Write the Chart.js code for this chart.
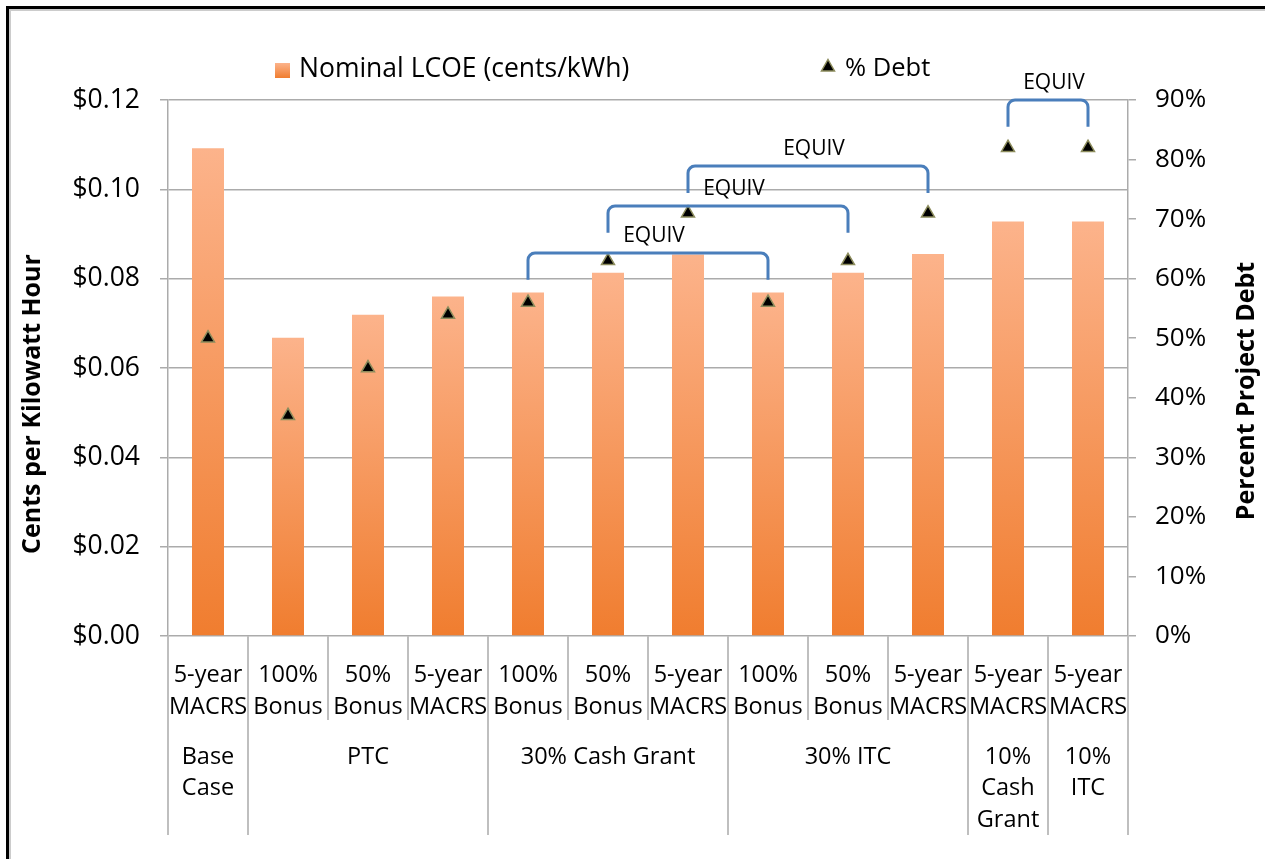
<!DOCTYPE html>
<html>
<head>
<meta charset="utf-8">
<title>Nominal LCOE and % Debt</title>
<script src="https://cdn.jsdelivr.net/npm/chart.js@4.4.1/dist/chart.umd.min.js"></script>
<style>
  html, body { margin: 0; padding: 0; background: #fff; overflow: hidden; }
  canvas { display: block; }
</style>
</head>
<body>
<canvas id="lcoe_chart" width="1265" height="859"></canvas>
<script>
// categories (first row of the x axis) and their groups (second row)
const categories = [
  ['5-year', 'MACRS'], ['100%', 'Bonus'], ['50%', 'Bonus'], ['5-year', 'MACRS'],
  ['100%', 'Bonus'], ['50%', 'Bonus'], ['5-year', 'MACRS'],
  ['100%', 'Bonus'], ['50%', 'Bonus'], ['5-year', 'MACRS'],
  ['5-year', 'MACRS'], ['5-year', 'MACRS']
];
const groupLabels = [['Base', 'Case'], ['PTC'], ['30% Cash Grant'], ['30% ITC'], ['10%', 'Cash', 'Grant'], ['10%', 'ITC']];
const groupSpans = [1, 3, 3, 3, 1, 1];

// series
const lcoe = [0.1092, 0.0668, 0.0719, 0.0760, 0.0769, 0.0813, 0.0854, 0.0769, 0.0813, 0.0855, 0.0928, 0.0928];
const debtPct = [50, 37, 45, 54, 56, 63, 71, 56, 63, 71, 82, 82];

// "EQUIV" brackets: pairs of category indexes and the % level of the bracket top
const equivPairs = [[4, 7], [5, 8], [6, 9], [10, 11]];
const equivLevels = [64.3, 72.2, 78.9, 90];
const equivLabel = 'EQUIV';

const FONT = "'Open Sans', 'Noto Sans', sans-serif";
const GRID = '#ababab';
Chart.defaults.font.family = FONT;
Chart.defaults.color = '#000';

function barFill(context) {
  const { ctx, scales } = context.chart;
  if (context.type !== 'data' || !scales.y) return '#F59A5B';
  const top = scales.y.getPixelForValue(context.raw);
  const base = scales.y.getPixelForValue(0);
  if (!isFinite(top) || !isFinite(base)) return '#F59A5B';
  const g = ctx.createLinearGradient(0, top, 0, base);
  g.addColorStop(0, '#FCB38B');
  g.addColorStop(1, '#F07D2F');
  return g;
}

// frame, labels, separators, legend, titles and brackets
const decorations = {
  id: 'decorations',
  beforeDraw(chart) {
    const { ctx, width, height } = chart;
    ctx.save();
    ctx.fillStyle = '#fff';
    ctx.fillRect(0, 0, width, height);
    ctx.fillStyle = '#cccccc';
    ctx.fillRect(9, 9, width, 2);
    ctx.fillRect(9, 9, 2, height);
    ctx.fillStyle = '#000';
    ctx.fillRect(6, 6, width, 3);
    ctx.fillRect(6, 6, 3, height);
    ctx.restore();
  },
  afterDraw(chart) {
    const { ctx, chartArea, scales: { x, y1 } } = chart;
    const bottom = chartArea.bottom;
    ctx.save();

    // separators under the axis
    ctx.strokeStyle = '#bfbfbf';
    ctx.lineWidth = 2;
    const groupEdges = [0];
    groupSpans.forEach(s => groupEdges.push(groupEdges[groupEdges.length - 1] + s));
    for (let i = 0; i <= categories.length; i++) {
      const px = Math.round(x.getPixelForValue(i - 0.5));
      const long = groupEdges.includes(i);
      ctx.beginPath();
      ctx.moveTo(px, bottom);
      ctx.lineTo(px, bottom + (long ? 199 : 84));
      ctx.stroke();
    }

    // first row labels
    ctx.fillStyle = '#000';
    ctx.textAlign = 'center';
    ctx.textBaseline = 'middle';
    ctx.font = '23.5px ' + FONT;
    categories.forEach((lines, i) => {
      const cx = x.getPixelForValue(i);
      lines.forEach((t, k) => ctx.fillText(t, cx, bottom + 39 + k * 32));
    });

    // second row (groups)
    groupLabels.forEach((lines, g) => {
      const a = x.getPixelForValue(groupEdges[g] - 0.5);
      const b = x.getPixelForValue(groupEdges[g + 1] - 0.5);
      lines.forEach((t, k) => ctx.fillText(t, (a + b) / 2, bottom + 121 + k * 31.5));
    });

    // axis titles
    ctx.font = 'bold 25px ' + FONT;
    ctx.save();
    ctx.translate(33, 404);
    ctx.rotate(-Math.PI / 2);
    ctx.fillText('Cents per Kilowatt Hour', 0, 0);
    ctx.restore();
    ctx.save();
    ctx.translate(1247, 391);
    ctx.rotate(-Math.PI / 2);
    ctx.fillText('Percent Project Debt', 0, 0);
    ctx.restore();

    // legend
    const ds = chart.data.datasets;
    const sq = ctx.createLinearGradient(0, 63, 0, 78);
    sq.addColorStop(0, '#FCB38B');
    sq.addColorStop(1, '#F07D2F');
    ctx.fillStyle = sq;
    ctx.fillRect(275, 63, 15, 15);
    ctx.fillStyle = '#000';
    ctx.textAlign = 'left';
    ctx.font = '26.5px ' + FONT;
    ctx.fillText(ds[1].label, 299, 69);
    ctx.strokeStyle = '#8c8c5c';
    ctx.lineWidth = 1.5;
    ctx.beginPath();
    ctx.moveTo(828, 59.5); ctx.lineTo(834.5, 71); ctx.lineTo(821.5, 71); ctx.closePath();
    ctx.fill(); ctx.stroke();
    ctx.font = '25.5px ' + FONT;
    ctx.fillText(ds[0].label, 845, 69);

    // EQUIV brackets
    ctx.strokeStyle = '#4A7EBB';
    ctx.lineWidth = 3;
    ctx.lineJoin = 'round';
    ctx.font = '21px ' + FONT;
    ctx.textAlign = 'center';
    equivPairs.forEach(([a, b], k) => {
      const xa = x.getPixelForValue(a);
      const xb = x.getPixelForValue(b);
      const yt = y1.getPixelForValue(equivLevels[k]);
      const yb = y1.getPixelForValue(equivLevels[k] - 4.5);
      const r = 7;
      ctx.beginPath();
      ctx.moveTo(xa, yb);
      ctx.arcTo(xa, yt, xa + r, yt, r);
      ctx.arcTo(xb, yt, xb, yt + r, r);
      ctx.lineTo(xb, yb);
      ctx.stroke();
      ctx.fillText(equivLabel, (xa + xb) / 2 + 6, yt - 17);
    });

    ctx.restore();
  }
};

new Chart(document.getElementById('lcoe_chart'), {
  type: 'bar',
  data: {
    labels: categories,
    datasets: [
      {
        type: 'line',
        label: '% Debt',
        data: debtPct,
        yAxisID: 'y1',
        showLine: false,
        pointStyle: 'triangle',
        pointRadius: 7.5,
        pointBackgroundColor: '#000',
        pointBorderColor: '#8c8c5c',
        pointBorderWidth: 1.5,
        order: 1,
      },
      {
        label: 'Nominal LCOE (cents/kWh)',
        data: lcoe,
        yAxisID: 'y',
        backgroundColor: barFill,
        borderWidth: 0,
        categoryPercentage: 1,
        barPercentage: 0.4,
        order: 2,
      },
    ],
  },
  options: {
    responsive: false,
    animation: false,
    devicePixelRatio: 1,
    layout: { padding: { top: 100, left: 0, right: 0, bottom: 0 } },
    plugins: { legend: { display: false }, tooltip: { enabled: false } },
    scales: {
      x: {
        grid: { display: false },
        border: { display: false },
        ticks: { display: false },
        afterFit(s) { s.height = 223; },
      },
      y: {
        position: 'left',
        min: 0,
        max: 0.12,
        ticks: {
          stepSize: 0.02,
          padding: 20,
          font: { size: 26.5 },
          color: '#000',
          callback: v => '$' + v.toFixed(2),
        },
        grid: { color: GRID, lineWidth: 1.5, tickLength: 8 },
        border: { color: GRID, width: 1.5 },
        afterFit(s) { s.width = 168; },
      },
      y1: {
        position: 'right',
        min: 0,
        max: 90,
        ticks: {
          stepSize: 10,
          padding: 19,
          font: { size: 26 },
          color: '#000',
          callback: v => v + '%',
        },
        grid: { drawOnChartArea: false, color: GRID, lineWidth: 1.5, tickLength: 8 },
        border: { color: GRID, width: 1.5 },
        afterFit(s) { s.width = 137; },
      },
    },
  },
  plugins: [decorations],
});
</script>
</body>
</html>
